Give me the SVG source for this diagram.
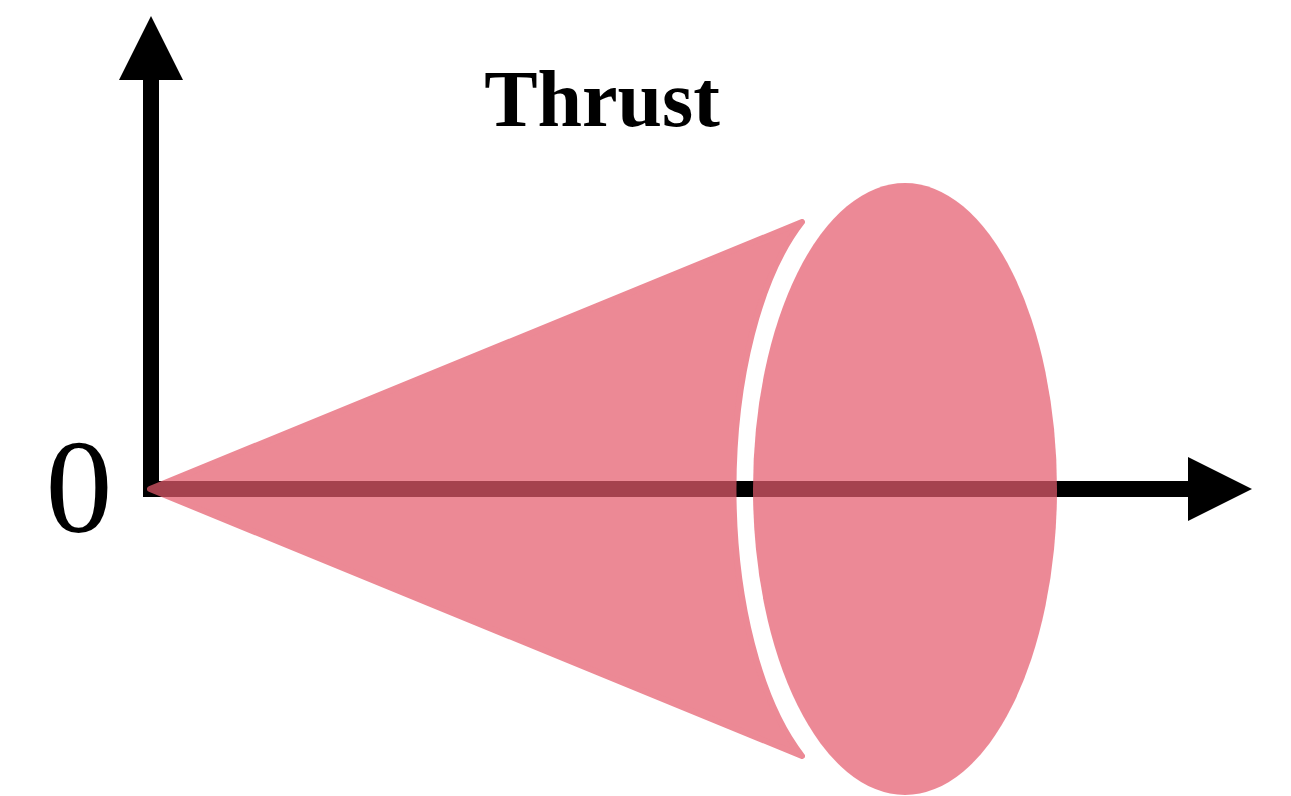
<svg xmlns="http://www.w3.org/2000/svg" width="1291" height="796" viewBox="0 0 1291 796">
<style>
.ax{fill:#000}
.pink{fill:#e55c6d;stroke:#e55c6d;stroke-width:6;stroke-linejoin:round}
.lbl{font-family:"Liberation Serif","Times New Roman",serif;fill:#000}
</style>
<rect width="1291" height="796" fill="#fff"/>
<g id="connectors">
<g id="y-axis">
<rect class="ax" x="143" y="78" width="16" height="419"/>
<polygon class="ax" points="119,80 151,16 183,80"/>
</g>
<g id="x-axis">
<rect class="ax" x="143" y="481" width="1047" height="16"/>
<polygon class="ax" points="1188,457 1252,489 1188,521"/>
</g>
</g>
<g id="cone" opacity="0.72">
<path class="pink" d="M150,489 L802,222 A134,306 0 0 0 802,756 Z"/>
</g>
<g id="disc" opacity="0.72">
<ellipse cx="905" cy="489" rx="152" ry="306" fill="#e55c6d"/>
</g>
<g id="label-thrust">
<text class="lbl" x="602" y="126" font-size="80" font-weight="bold" text-anchor="middle">Thrust</text>
</g>
<g id="label-origin">
<text class="lbl" x="79" y="532" font-size="134" text-anchor="middle">0</text>
</g>
</svg>
